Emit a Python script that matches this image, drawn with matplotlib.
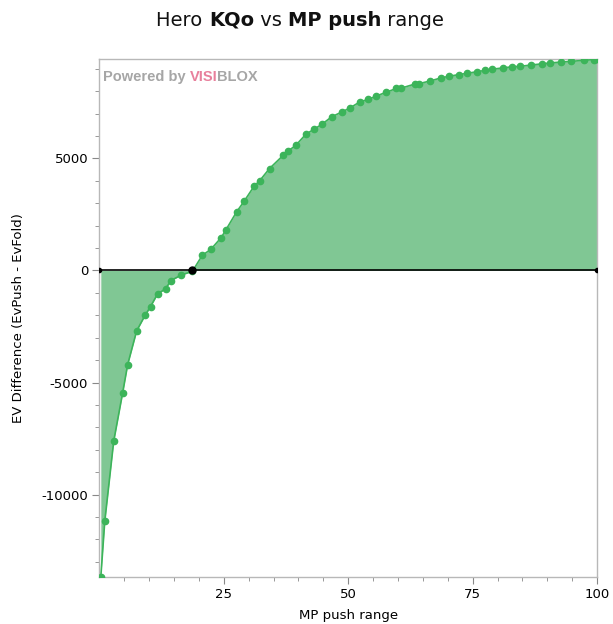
import matplotlib
matplotlib.use('Agg')
import matplotlib.pyplot as plt
import numpy as np

plt.rcParams['axes.unicode_minus'] = False

# MP push range (%) vs EV difference
push_range = [0.3, 1.1, 2.9, 4.7, 5.7, 7.5, 9.2, 10.3, 11.7, 13.3, 14.4, 16.5, 18.7,
              20.7, 22.4, 24.5, 25.4, 27.6, 29.1, 31.1, 32.2, 34.2, 37.0, 38.0, 39.5,
              41.5, 43.1, 44.7, 46.7, 48.8, 50.4, 52.4, 54.0, 55.6, 57.6, 59.7, 60.7,
              63.4, 64.3, 66.5, 68.6, 70.2, 72.2, 73.8, 75.9, 77.5, 78.9, 81.1, 82.9,
              84.5, 86.8, 88.9, 90.5, 92.7, 94.8, 97.4, 99.4, 100.0]
ev_diff = [-13680, -11190, -7610, -5450, -4200, -2700, -2000, -1610, -1050, -820, -450, -200, -40,
           680, 940, 1470, 1800, 2620, 3090, 3760, 4000, 4550, 5150, 5340, 5590,
           6080, 6300, 6520, 6860, 7080, 7260, 7530, 7630, 7780, 7950, 8125, 8140,
           8320, 8340, 8460, 8590, 8665, 8740, 8795, 8870, 8930, 8980, 9040, 9090,
           9110, 9170, 9220, 9260, 9300, 9330, 9380, 9410, 9433]

x_range = [0, 100]
x_ticks = [25, 50, 75, 100]
y_ticks = [-10000, -5000, 0, 5000]

title_parts = [('Hero ', 'normal'), ('KQo', 'bold'), (' vs ', 'normal'),
               ('MP push', 'bold'), (' range', 'normal')]

x = np.array(push_range)
y = np.array(ev_diff)

fig = plt.figure(figsize=(6.13, 6.24), dpi=100)
ax = fig.add_axes([0.162, 0.0753, 0.812, 0.830])

fill_col = '#80c794'
line_col = '#3cb45a'
frame_col = '#b8b8b8'

ax.fill_between(x, y, 0, color=fill_col, lw=0, zorder=1)
ax.plot(x, y, color=line_col, lw=1.2, marker='o', ms=4.5, mec=line_col, mfc=line_col, zorder=3)

# zero line with end markers and the break-even point
ax.plot(x_range, [0, 0], color='black', lw=1.2, marker='o', ms=3, zorder=4)
i0 = int(np.argmin(np.abs(y)))
ax.plot([x[i0]], [0], 'o', color='black', ms=5, zorder=5)

ax.set_xlim(x_range)
ax.set_ylim(y.min(), y.max())
ax.set_xticks(x_ticks)
ax.set_xticks(np.arange(5, 100, 5), minor=True)
ax.set_yticks(y_ticks)
ax.set_yticks(np.arange(-13000, 9500, 1000), minor=True)

for s in ax.spines.values():
    s.set_color(frame_col)
    s.set_linewidth(1.0)
ax.tick_params(which='major', length=5, color='#888888', labelsize=9.5, pad=3)
ax.tick_params(which='minor', length=3, color='#888888')
ax.set_xlabel('MP push range', fontsize=9.5, labelpad=6)
ax.set_ylabel('EV Difference (EvPush - EvFold)', fontsize=9.5, labelpad=12)

fig.canvas.draw()
r = fig.canvas.get_renderer()

# place pieces of text side by side (for mixed weights / colours)
def put_pieces(parts, x0, y0, size, family, ha_center=False):
    texts = []
    for s, w, c in parts:
        texts.append(fig.text(x0, y0, s, fontsize=size, fontweight=w, color=c,
                              family=family, va='baseline', ha='left'))
    widths = [t.get_window_extent(r).width for t in texts]
    total = sum(widths)
    start = x0 * fig.bbox.width - (total / 2 if ha_center else 0)
    for t, wdt in zip(texts, widths):
        t.set_x(start / fig.bbox.width)
        start += wdt
    return texts

# watermark
put_pieces([('Powered by ', 'bold', '#a6a6a6'), ('VISI', 'bold', '#e8809c'),
            ('BLOX', 'bold', '#a6a6a6')], 103 / 613, 1 - 81 / 624, 10.5,
           'Liberation Sans')

put_pieces([(s, w, '#111111') for s, w in title_parts], 0.49, 1 - 26 / 624, 14,
           'DejaVu Sans', ha_center=True)

fig.savefig('out.png', dpi=100)
